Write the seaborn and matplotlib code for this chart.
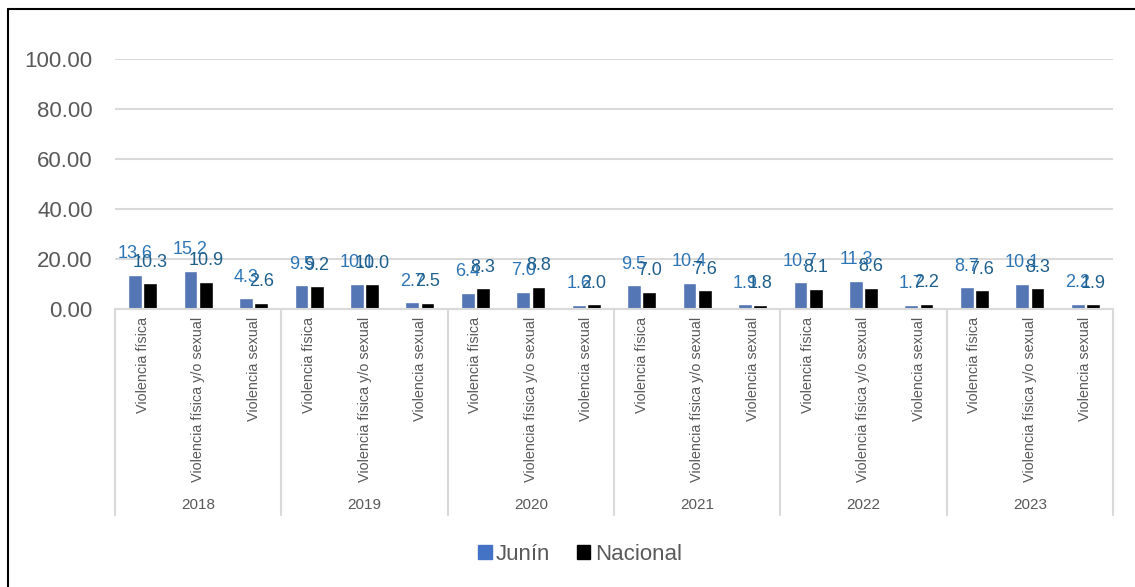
import pandas as pd
import matplotlib.pyplot as plt
import seaborn as sns
from matplotlib.lines import Line2D
from matplotlib.transforms import blended_transform_factory

sns.set_style("white")
plt.rcParams['font.family'] = ['Liberation Sans', 'DejaVu Sans']

# Data
years = ["2018", "2019", "2020", "2021", "2022", "2023"]
categories = ["Violencia física", "Violencia física y/o sexual", "Violencia sexual"]
junin = [13.6, 15.2, 4.3, 9.5, 10.1, 2.7, 6.4, 7.0, 1.6,
         9.5, 10.4, 1.9, 10.7, 11.3, 1.7, 8.7, 10.1, 2.2]
nacional = [10.3, 10.9, 2.6, 9.2, 10.0, 2.5, 8.3, 8.8, 2.0,
            7.0, 7.6, 1.8, 8.1, 8.6, 2.2, 7.6, 8.3, 1.9]
y_ticks = [0, 20, 40, 60, 80, 100]

keys = [f"{y}|{c}" for y in years for c in categories]
df = pd.DataFrame({
    "key": keys * 2,
    "serie": ["Junín"] * len(keys) + ["Nacional"] * len(keys),
    "valor": junin + nacional,
})

fig = plt.figure(figsize=(11.35, 5.87), dpi=100)
ax = fig.add_axes([115 / 1135, 1 - 309 / 587, (1113 - 115) / 1135, 250 / 587])

sns.barplot(data=df, x="key", y="valor", hue="serie", order=keys,
            palette={"Junín": "#4472C4", "Nacional": "#000000"},
            width=0.55, gap=0.1, ax=ax, legend=False)

# value labels (overlapping as in the original Excel chart)
label_colors = {"Junín": "#2E75B6", "Nacional": "#1F5F8B"}
for cont, name in zip(ax.containers, ["Junín", "Nacional"]):
    ax.bar_label(cont, fmt="%.1f", padding=9, fontsize=13, color=label_colors[name])

ax.set_ylim(0, 100)
ax.set_xlim(-0.5, len(keys) - 0.5)
ax.set_yticks(y_ticks)
ax.set_yticklabels([f"{v:.2f}" for v in y_ticks], fontsize=16, color="#595959")
ax.yaxis.grid(True, color="#D9D9D9", linewidth=1.5)
ax.set_axisbelow(True)
ax.set_xlabel("")
ax.set_ylabel("")
ax.set_xticks(range(len(keys)))
ax.set_xticklabels([c for y in years for c in categories], rotation=90,
                   fontsize=10.4, color="#595959", va="top")
ax.tick_params(axis="both", length=0)
ax.tick_params(axis="x", pad=6)
ax.tick_params(axis="y", pad=16)
for side in ["top", "right", "left"]:
    ax.spines[side].set_visible(False)
ax.spines["bottom"].set_color("#D9D9D9")
ax.spines["bottom"].set_linewidth(1.5)

# group separators and year labels
trans = blended_transform_factory(ax.transData, ax.transAxes)
for i in range(len(years) + 1):
    x = i * 3 - 0.5
    ax.add_line(Line2D([x, x], [0, -206 / 250], transform=trans, color="#D9D9D9",
                       linewidth=1.5, clip_on=False))
for i, y in enumerate(years):
    ax.text(i * 3 + 1, -196 / 250, y, transform=trans, ha="center", va="center",
            fontsize=11, color="#595959")

# legend
handles = [plt.Rectangle((0, 0), 1, 1, color="#4472C4"),
           plt.Rectangle((0, 0), 1, 1, color="#000000")]
fig.legend(handles, ["Junín", "Nacional"], loc="center", bbox_to_anchor=(0.511, 1 - 554 / 587),
           ncol=2, frameon=False, fontsize=16, handlelength=0.6, handleheight=0.6,
           handletextpad=0.2, columnspacing=1.2, labelcolor="#595959")

# outer frame (left and top edges visible)
fig.add_artist(Line2D([8 / 1135, 8 / 1135], [0, 1 - 9 / 587], transform=fig.transFigure,
                      color="black", linewidth=1.5))
fig.add_artist(Line2D([8 / 1135, 1], [1 - 9 / 587, 1 - 9 / 587], transform=fig.transFigure,
                      color="black", linewidth=1.5))

fig.savefig("out.png", dpi=100)
